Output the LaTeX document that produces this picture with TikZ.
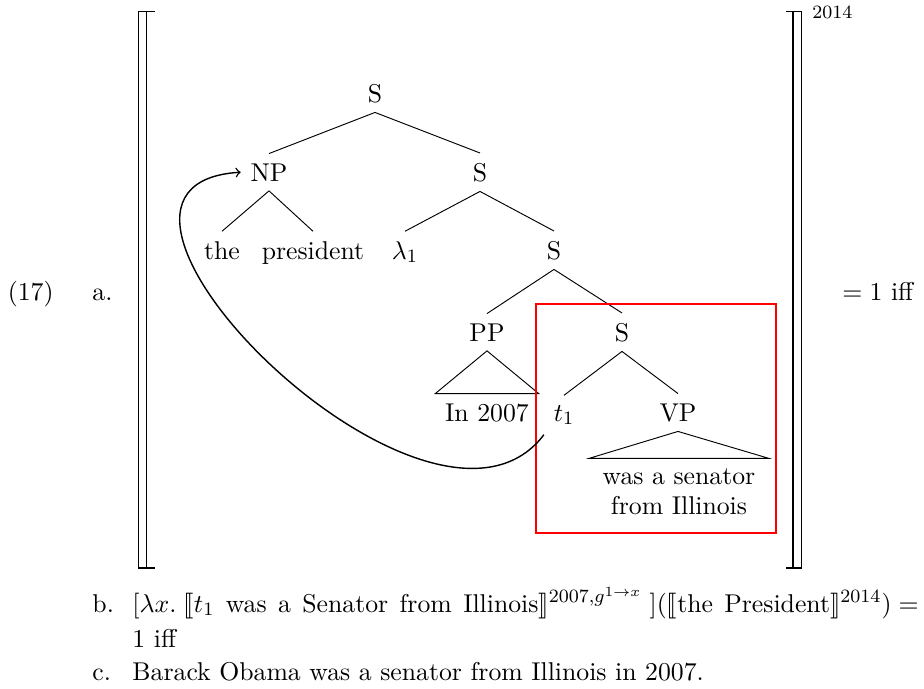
\documentclass[11pt,tikz,border=0pt]{standalone}
\usepackage{stmaryrd}
\begin{document}
\begin{tikzpicture}[x=0.42553pt, y=-0.42553pt,
  cat/.style={inner sep=4pt, anchor=base},
  lab/.style={inner sep=0pt},
  edge/.style={line width=0.4pt},
  dbl/.style={line width=0.65pt},
  mv/.style={->, semithick},
  focus/.style={draw=red, line width=0.45pt}]
\useasboundingbox (0,0) rectangle (924,689);

% example number and sub-labels
\node[lab, anchor=base east] (num) at (54,300) {(17)};
\node[lab, anchor=base west] (la) at (92,300) {a.};

% semantic double brackets
\draw[dbl] (155,11.7) -- (138.3,11.7) -- (138.3,568) -- (155,568);
\draw[dbl] (146.7,11.7) -- (146.7,568);
\draw[dbl] (786,11.7) -- (801.7,11.7) -- (801.7,568) -- (786,568);
\draw[dbl] (793,11.7) -- (793,568);
\node[lab, anchor=base west, font=\fontsize{8}{10}\selectfont] (idx) at (812,19) {2014};
\node[lab, anchor=base west] (iffa) at (842,300) {$=1$ iff};

% tree
\node[cat] (S0) at (375,102) {S};
\node[cat] (NP) at (269,181) {NP};
\node[cat] (S1) at (480,181) {S};
\node[cat] (the) at (222,259) {the};
\node[cat] (pres) at (313,259) {president};
\node[cat] (lam) at (405,259) {$\lambda_1$};
\node[cat] (S2) at (554,259) {S};
\node[cat] (PP) at (487,341) {PP};
\node[cat] (S3) at (622,341) {S};
\node[cat] (in07) at (487,421) {In 2007};
\node[cat] (t1) at (564,421) {$t_1$};
\node[cat] (VP) at (678,421) {VP};
\node[cat, inner xsep=5.5pt] (was) at (679,484) {was a senator};
\node[cat] (from) at (679,514) {from Illinois};

\draw[edge] (S0.south) -- (NP.north);
\draw[edge] (S0.south) -- (S1.north);
\draw[edge] (NP.south) -- (the.north);
\draw[edge] (NP.south) -- (pres.north);
\draw[edge] (S1.south) -- (lam.north);
\draw[edge] (S1.south) -- (S2.north);
\draw[edge] (S2.south) -- (PP.north);
\draw[edge] (S2.south) -- (S3.north);
\draw[edge] (PP.south) -- (in07.north west) -- (in07.north east) -- cycle;
\draw[edge] (S3.south) -- (t1.north);
\draw[edge] (S3.south) -- (VP.north);
\draw[edge] (VP.south) -- (was.north west) -- (was.north east) -- cycle;

% highlighted constituent
\draw[focus] (536,304) rectangle (776,533);

% movement arrow
\draw[mv] (t1.south west) .. controls (430,585) and (30,185) .. (NP.west);

% continuation lines
\node[lab, anchor=base west] (lb) at (92,612) {b.};
\node[lab, anchor=base west] (bline) at (132,612) {\spaceskip=4.85pt$\big[\lambda x.\;\llbracket t_1\mbox{ was a Senator from Illinois}\rrbracket^{2007,g^{1\to x}}\;\big](\llbracket\mbox{the President}\rrbracket^{2014}) =$};
\node[lab, anchor=base west] (bline2) at (132,647) {1 iff};
\node[lab, anchor=base west] (lc) at (92,680) {c.};
\node[lab, anchor=base west] (cline) at (132,680) {Barack Obama was a senator from Illinois in 2007.};
\end{tikzpicture}
\end{document}
